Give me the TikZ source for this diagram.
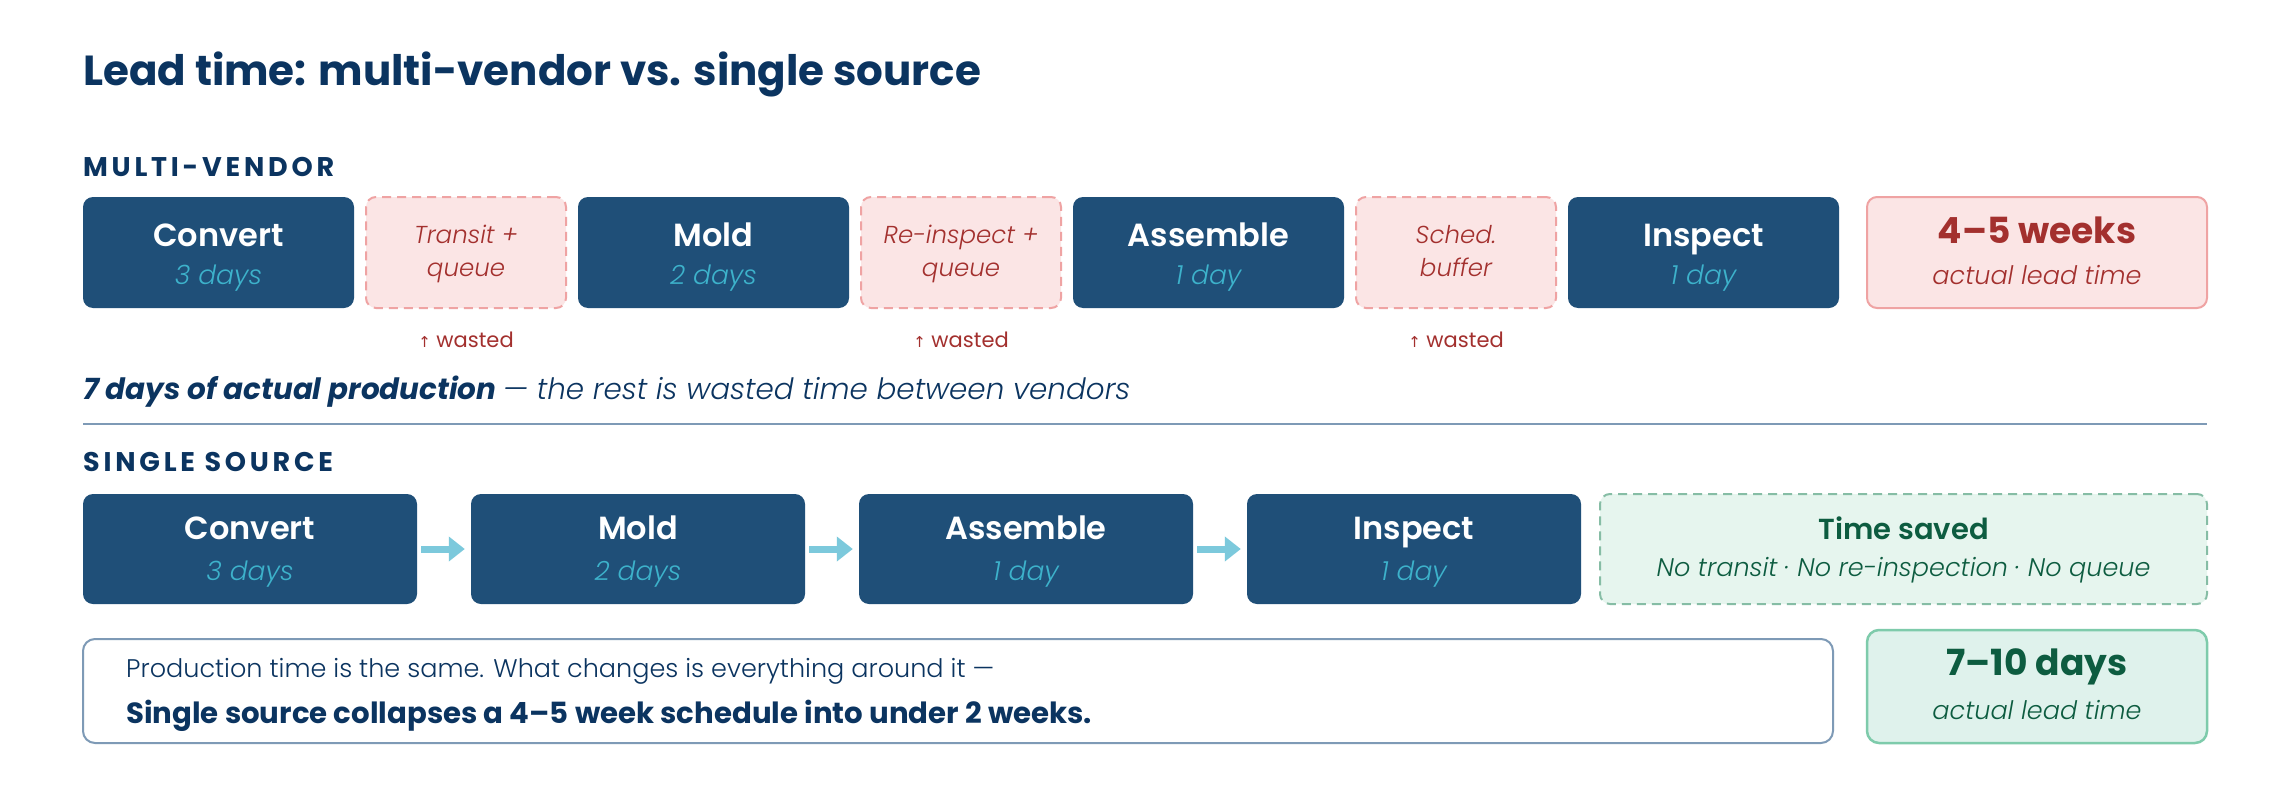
\documentclass[tikz,border=0pt]{standalone}
\usepackage{fontspec}
\setmainfont{Poppins}
\newfontfamily\semifont{Poppins SemiBold}
\newfontfamily\lightfont{Poppins Light}[ItalicFont={Poppins Light Italic}]
\newfontfamily\arrowfont{DejaVu Sans}
\usetikzlibrary{arrows.meta}

\definecolor{navy}{HTML}{0B3460}
\definecolor{stepblue}{HTML}{1F4F78}
\definecolor{dayteal}{HTML}{3DB2CB}
\definecolor{wastefill}{HTML}{FBE5E5}
\definecolor{wasteline}{HTML}{EFA3A3}
\definecolor{wastered}{HTML}{A3302E}
\definecolor{savefill}{HTML}{E6F5EE}
\definecolor{saveline}{HTML}{86BDA5}
\definecolor{savegreen}{HTML}{0D5C40}
\definecolor{leadfill}{HTML}{DFF2EC}
\definecolor{leadline}{HTML}{7ECBAB}
\definecolor{rulegray}{HTML}{7E9AB6}
\definecolor{flowteal}{HTML}{7CC9DC}

\newcommand{\fsz}[1]{\fontsize{#1}{#1}\selectfont}

\tikzset{
    stepbox/.style={fill=stepblue, rounded corners=10pt, minimum height=111pt, inner sep=0pt},
    wastebox/.style={fill=wastefill, draw=wasteline, line width=2pt, dash pattern=on 9pt off 6pt,
        rounded corners=10pt, minimum width=200pt, minimum height=111pt, inner sep=0pt},
    steptitle/.style={text=white, font=\fsz{32}\semifont, anchor=base},
    stepdays/.style={text=dayteal, font=\fsz{26.5}\lightfont\itshape, anchor=base},
    wastetext/.style={text=wastered, font=\fsz{24.5}\lightfont\itshape, anchor=base},
    heading/.style={text=navy, font=\fsz{27}\bfseries\addfontfeatures{LetterSpace=14}, anchor=base west},
}

\begin{document}
\begin{tikzpicture}[x=1pt, y=-1pt]
    \useasboundingbox[fill=white] (0,0) rectangle (2292,792);

    % Title
    \node[text=navy, font=\fsz{42}\bfseries, anchor=base west, inner sep=0pt] (title) at (83,85)
        {Lead time: multi-vendor vs. single source};

    % Multi-vendor row
    \node[heading, inner sep=0pt] (mvhead) at (83,176) {MULTI-VENDOR};

    \foreach \x/\name/\days/\id in {218.5/Convert/3 days/mconv, 713.5/Mold/2 days/mmold,
                                    1208.5/Assemble/1 day/mass, 1703.5/Inspect/1 day/minsp} {
        \node[stepbox, minimum width=271pt] (\id) at (\x,252.5) {};
        \node[steptitle] at (\x,246) {\name};
        \node[stepdays] at (\x,284) {\days};
    }

    \foreach \x/\top/\bot/\id in {466/Transit +/queue/wtrans, 961/Re-inspect +/queue/winsp,
                                  1456/Sched./buffer/wsched} {
        \node[wastebox] (\id) at (\x,252.5) {};
        \node[wastetext] at (\x,243) {\top};
        \node[wastetext] at (\x,276) {\bot};
        \node[text=wastered, font=\fsz{21}, anchor=base] at (\x,347)
            {{\arrowfont\fsz{15}↑} wasted};
    }

    \node[fill=wastefill, draw=wasteline, line width=2pt, rounded corners=10pt,
          minimum width=340pt, minimum height=111pt] (mlead) at (2037,252.5) {};
    \node[text=wastered, font=\fsz{36}\bfseries, anchor=base] at (2037,243) {4–5 weeks};
    \node[text=wastered, font=\fsz{25.5}\lightfont\itshape, anchor=base] at (2037,284) {actual lead time};

    \node[text=navy, font=\fsz{29.4}\itshape, anchor=base west, inner sep=0pt] (mvnote) at (83,399)
        {\bfseries 7 days of actual production \mdseries\lightfont\itshape — the rest is wasted time between vendors};

    % Divider
    \draw[rulegray, line width=2pt] (83,424) -- (2207,424);

    % Single source row
    \node[heading, inner sep=0pt] (sshead) at (83,471) {SINGLE SOURCE};

    \foreach \x/\name/\days/\id in {250/Convert/3 days/sconv, 638/Mold/2 days/smold,
                                    1026/Assemble/1 day/sass, 1414/Inspect/1 day/sinsp} {
        \node[stepbox, minimum width=334pt, minimum height=110pt] (\id) at (\x,549) {};
        \node[steptitle] at (\x,539) {\name};
        \node[stepdays] at (\x,580) {\days};
    }

    \foreach \a/\b in {sconv/smold, smold/sass, sass/sinsp}
        \draw[flowteal, line width=7pt, -{Triangle[length=16pt, width=24pt]},
              shorten <=4pt, shorten >=6pt] (\a) -- (\b);

    \node[fill=savefill, draw=saveline, line width=2pt, dash pattern=on 9pt off 6pt,
          rounded corners=10pt, minimum width=607pt, minimum height=110pt] (saved) at (1903.5,549) {};
    \node[text=savegreen, font=\fsz{29}\semifont, anchor=base] at (1903.5,539) {Time saved};
    \node[text=savegreen, font=\fsz{25.5}\lightfont\itshape, anchor=base] at (1903.5,576)
        {No transit · No re-inspection · No queue};

    % Summary
    \node[draw=rulegray, line width=2pt, rounded corners=12pt, fill=white,
          minimum width=1750pt, minimum height=104pt] (summary) at (958,691) {};
    \node[text=navy, font=\fsz{25.5}\lightfont, anchor=base west, inner sep=0pt] at (126,677)
        {Production time is the same. What changes is everything around it —};
    \node[text=navy, font=\fsz{29.2}\bfseries, anchor=base west, inner sep=0pt] at (126,723)
        {Single source collapses a 4–5 week schedule into under 2 weeks.};

    \node[fill=leadfill, draw=leadline, line width=2.5pt, rounded corners=12pt,
          minimum width=340pt, minimum height=113pt] (slead) at (2037,686.5) {};
    \node[text=savegreen, font=\fsz{36}\bfseries, anchor=base] at (2037,675) {7–10 days};
    \node[text=savegreen, font=\fsz{25.5}\lightfont\itshape, anchor=base] at (2037,719) {actual lead time};
\end{tikzpicture}
\end{document}
